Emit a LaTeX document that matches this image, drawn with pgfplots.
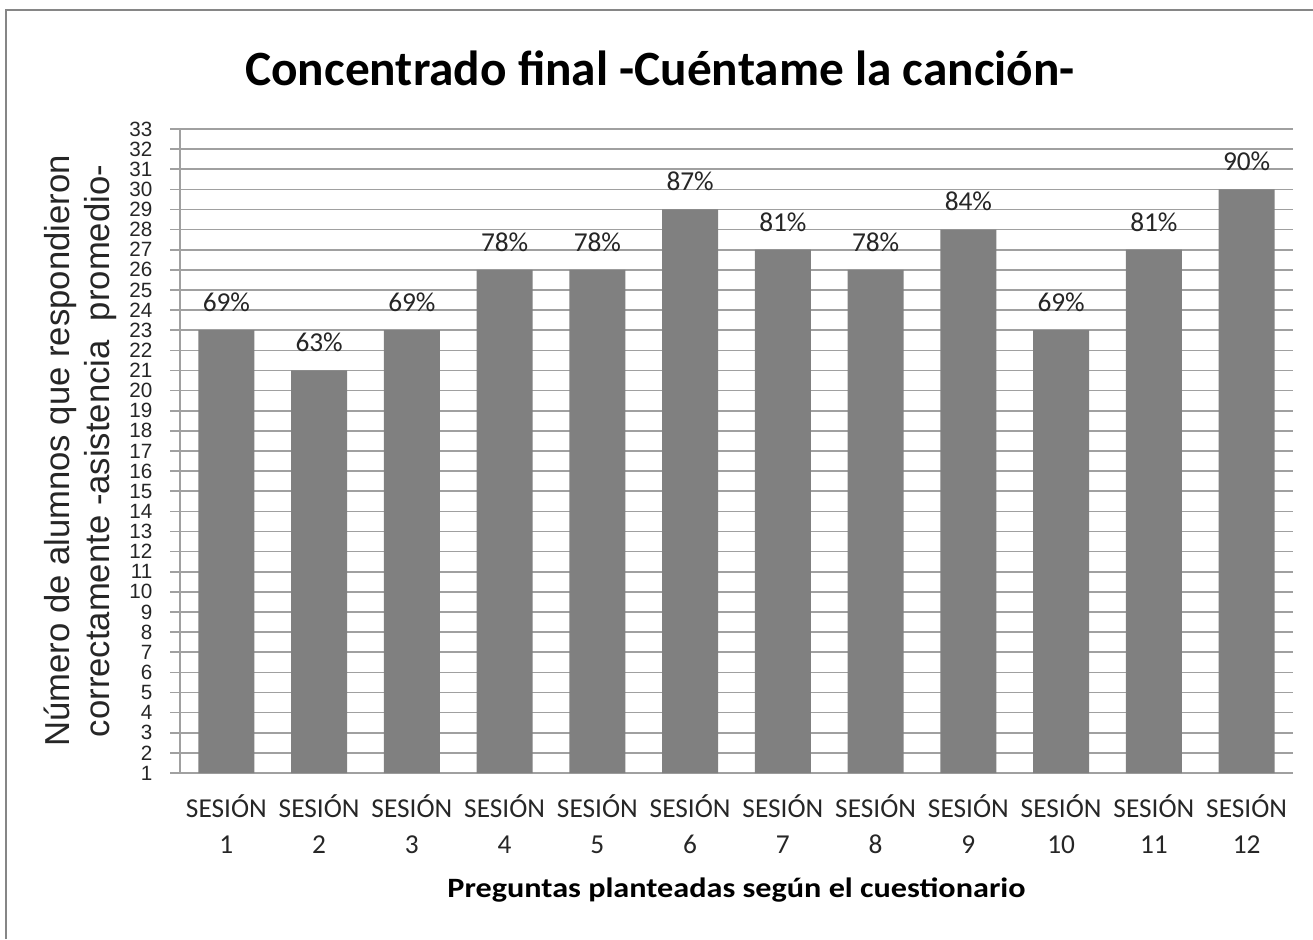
\documentclass[border=0pt]{standalone}
\usepackage{pgfplots}
\pgfplotsset{compat=1.18}
\usepackage{fontspec}
\setmainfont{Carlito}
\newfontfamily\arial{Liberation Sans}
\definecolor{barcol}{RGB}{128,128,128}
\definecolor{gridcol}{RGB}{160,160,160}
\definecolor{bordercol}{RGB}{134,134,134}
\begin{document}
\begin{tikzpicture}
\useasboundingbox (0,0) rectangle (984.75pt,704.25pt);
\draw[bordercol, line width=1.5pt] (4.5pt,0pt) -- (4.5pt,696.75pt) -- (984.75pt,696.75pt);
\begin{axis}[
  at={(135pt,124.5pt)}, anchor=south west,
  scale only axis, width=834.75pt, height=483pt,
  xmin=0.5, xmax=12.5, ymin=1, ymax=33,
  axis x line*=bottom, axis y line*=left,
  axis line style={draw=gridcol, line width=1.2pt},
  ytick={1,...,33},
  xtick={1,...,12},
  xticklabels={{SESIÓN\\1},{SESIÓN\\2},{SESIÓN\\3},{SESIÓN\\4},{SESIÓN\\5},{SESIÓN\\6},{SESIÓN\\7},{SESIÓN\\8},{SESIÓN\\9},{SESIÓN\\10},{SESIÓN\\11},{SESIÓN\\12}},
  x tick style={draw=none},
  y tick style={draw=gridcol, line width=1.2pt},
  tick align=outside, major tick length=7.5pt,
  ymajorgrids, grid style={draw=gridcol, line width=1.2pt},
  yticklabel style={font=\arial\fontsize{15.5}{15.5}\selectfont, text=black!85, inner sep=0pt, xshift=-13pt},
  xticklabel style={font=\fontsize{20.5}{27.5}\selectfont, align=center, text=black!85, yshift=-5pt},
  /pgf/number format/assume math mode=true,
  ylabel={Número de alumnos que respondieron\\correctamente -asistencia\ \ promedio-},
  every axis y label/.style={at={(axis description cs:-0.0898,0.5)}, rotate=90, anchor=center,
     font=\arial\fontsize{26}{30}\selectfont, align=center, text=black!85},
  xlabel={\scalebox{1.15}[1]{Preguntas planteadas según el cuestionario}},
  every axis x label/.style={at={(axis description cs:0.5,-0.1817)}, anchor=center,
     font=\bfseries\fontsize{21}{25}\selectfont},
  title={Concentrado final -Cuéntame la canción-},
  every axis title/.style={at={(axis description cs:0.4313,1.0947)}, anchor=center,
     font=\bfseries\fontsize{37}{42}\selectfont},
]
\addplot[ybar, fill=barcol, draw=none, bar width=42pt,
  nodes near coords, point meta=explicit symbolic,
  every node near coord/.style={anchor=base, yshift=14pt, font=\fontsize{20.5}{24}\selectfont, text=black!85}]
coordinates {
(1,23) [69\%]
(2,21) [63\%]
(3,23) [69\%]
(4,26) [78\%]
(5,26) [78\%]
(6,29) [87\%]
(7,27) [81\%]
(8,26) [78\%]
(9,28) [84\%]
(10,23) [69\%]
(11,27) [81\%]
(12,30) [90\%]
};
\end{axis}
\end{tikzpicture}
\end{document}
